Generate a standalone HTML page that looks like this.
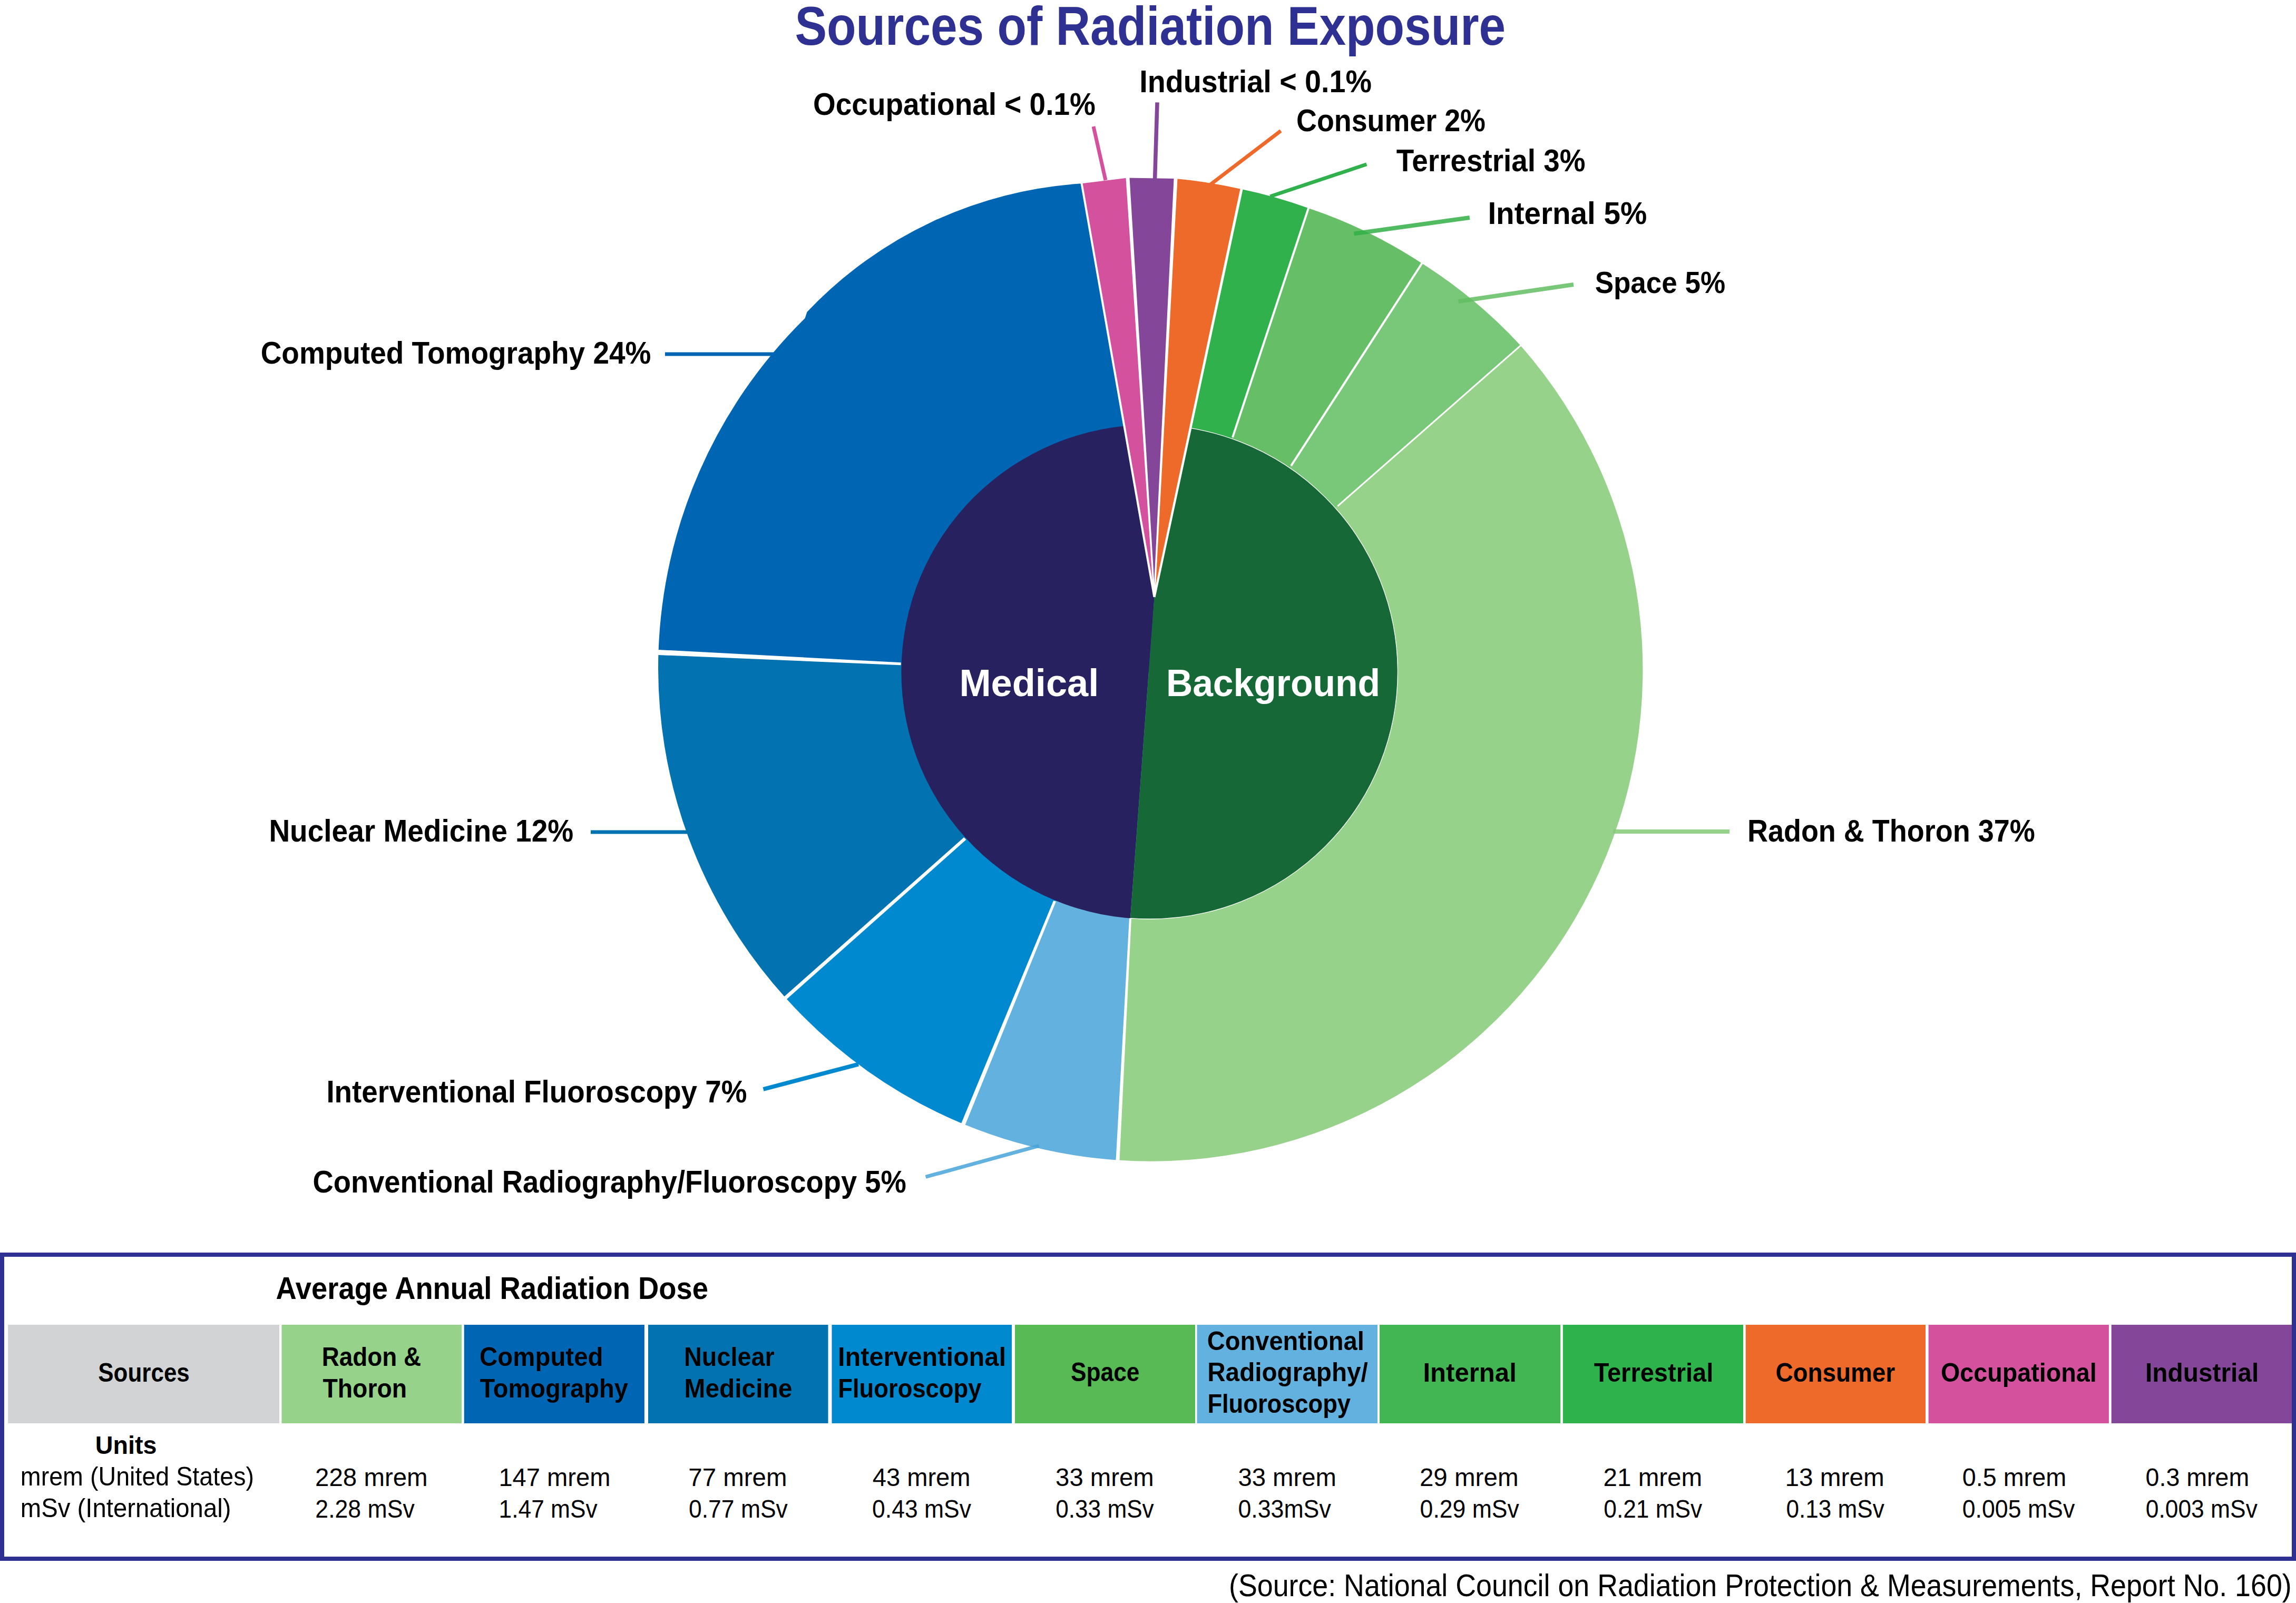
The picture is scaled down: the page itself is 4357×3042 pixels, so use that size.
<!DOCTYPE html>
<html><head><meta charset="utf-8"><style>
html,body{margin:0;padding:0;background:#fff;}
svg{display:block;}
text{font-family:"Liberation Sans",sans-serif;}
</style></head><body>
<svg width="4357" height="3042" viewBox="0 0 4357 3042">
<rect width="4357" height="3042" fill="#fff"/>
<defs>
<clipPath id="cn"><path d="M 2190.5 1133.0 L 2114.4 700 L 1600 700 L 1600 1900 L 2133.2 1900 Z"/></clipPath>
<clipPath id="cg"><path d="M 2190.5 1133.0 L 2283.1 700 L 2760 700 L 2760 1900 L 2133.2 1900 Z"/></clipPath>
</defs>

<path d="M 1249.5 1238.0 A 932.5 932.5 0 0 1 1527.5 604.0 L 1531.5 592.0 A 785 785 0 0 1 2052.6 348.3 L 2190.5 1133.0 L 2182.0 1271.0 L 1709.6 1259.8 Z" fill="#0066b3"/>
<path d="M 2052.6 348.3 L 2140.0 337.5 L 2190.5 1133.0 Z" fill="#d4519d"/>
<path d="M 2140.0 337.5 L 2231.0 339.0 L 2190.5 1133.0 Z" fill="#834699"/>
<path d="M 2231.0 339.0 A 932.5 932.5 0 0 1 2356.0 359.0 L 2190.5 1133.0 Z" fill="#ee6a2a"/>
<path d="M 2356.0 359.0 A 932.5 932.5 0 0 1 2483.0 395.0 L 2339.0 830.0 L 2182.0 1271.0 L 2190.5 1133.0 Z" fill="#30b14c"/>
<path d="M 2483.0 395.0 A 932.5 932.5 0 0 1 2698.3 499.8 L 2450.0 884.0 L 2182.0 1271.0 L 2339.0 830.0 Z" fill="#66bf67"/>
<path d="M 2698.3 499.8 A 932.5 932.5 0 0 1 2885.5 655.8 L 2538.5 960.3 L 2182.0 1271.0 L 2450.0 884.0 Z" fill="#79c778"/>
<path d="M 2885.5 655.8 A 932.5 932.5 0 0 1 2121.0 2201.5 L 2145.0 1742.0 L 2182.0 1271.0 L 2538.5 960.3 Z" fill="#97d28a"/>
<path d="M 2121.0 2201.5 A 932.5 932.5 0 0 1 1828.0 2133.0 L 2001.5 1710.0 L 2182.0 1271.0 L 2145.0 1742.0 Z" fill="#62b1de"/>
<path d="M 1828.0 2133.0 A 932.5 932.5 0 0 1 1490.7 1893.5 L 1831.3 1591.3 L 2182.0 1271.0 L 2001.5 1710.0 Z" fill="#0089cf"/>
<path d="M 1490.7 1893.5 A 932.5 932.5 0 0 1 1249.5 1238.0 L 1709.6 1259.8 L 2182.0 1271.0 L 1831.3 1591.3 Z" fill="#0272b0"/>
<path d="M 2483.0 388.7 L 2337.1 829.4 L 2340.9 830.6 L 2486.8 389.9 Z" fill="#fff"/>
<path d="M 2699.9 493.7 L 2448.3 882.9 L 2451.7 885.1 L 2703.2 495.8 Z" fill="#fff"/>
<path d="M 2889.0 650.7 L 2537.5 959.2 L 2539.5 961.4 L 2891.0 653.0 Z" fill="#fff"/>
<path d="M 2124.2 2207.7 L 2147.0 1742.1 L 2143.0 1741.9 L 2117.2 2207.3 Z" fill="#fff"/>
<path d="M 1829.4 2140.1 L 2003.8 1710.9 L 1999.2 1709.1 L 1822.0 2137.0 Z" fill="#fff"/>
<path d="M 1488.5 1900.1 L 1833.3 1593.5 L 1829.3 1589.1 L 1483.9 1894.9 Z" fill="#fff"/>
<path d="M 1243.3 1242.7 L 1709.5 1262.3 L 1709.7 1257.3 L 1243.7 1232.7 Z" fill="#fff"/>
<ellipse cx="2181.4" cy="1275.0" rx="471.0" ry="469.0" fill="#272160" clip-path="url(#cn)"/>
<ellipse cx="2181.4" cy="1275.0" rx="471.0" ry="469.0" fill="#166837" stroke="#fff" stroke-width="1.3" clip-path="url(#cg)"/>
<path d="M 2049.6 342.7 L 2188.5 1133.3 L 2192.5 1132.7 L 2053.5 342.0 Z" fill="#fff"/>
<path d="M 2136.1 331.7 L 2189.0 1133.1 L 2192.0 1132.9 L 2143.1 331.3 Z" fill="#fff"/>
<path d="M 2227.8 332.8 L 2189.0 1132.9 L 2192.0 1133.1 L 2234.8 333.2 Z" fill="#fff"/>
<path d="M 2354.8 352.6 L 2188.5 1132.6 L 2192.5 1133.4 L 2359.7 353.7 Z" fill="#fff"/>
<line x1="2075" y1="240" x2="2098" y2="342" stroke="#d4519d" stroke-width="7"/>
<line x1="2196" y1="194.4" x2="2191.5" y2="342" stroke="#834699" stroke-width="7.5"/>
<line x1="2430.5" y1="248.3" x2="2297.2" y2="350" stroke="#ee6a2a" stroke-width="7"/>
<line x1="2593.4" y1="311.8" x2="2410.4" y2="372.8" stroke="#30b14c" stroke-width="7"/>
<line x1="2788.9" y1="413" x2="2569.4" y2="443.5" stroke="#33af46" stroke-opacity="0.85" stroke-width="8"/>
<line x1="2986" y1="540" x2="2767.4" y2="572" stroke="#61bd60" stroke-opacity="0.85" stroke-width="8"/>
<line x1="1262" y1="672" x2="1480" y2="672" stroke="#0066b3" stroke-width="7"/>
<line x1="1121" y1="1579" x2="1304" y2="1579" stroke="#0272b0" stroke-width="7"/>
<line x1="3061.5" y1="1578" x2="3282" y2="1578" stroke="#85ca75" stroke-opacity="0.85" stroke-width="8"/>
<line x1="1448.5" y1="2067" x2="1629" y2="2019.6" stroke="#0089cf" stroke-width="8"/>
<line x1="1756.6" y1="2233.4" x2="1971.5" y2="2174.4" stroke="#46a3d8" stroke-opacity="0.85" stroke-width="7"/>
<path d="M 4 2381 H 4353 V 2958 H 4 Z" fill="none" stroke="#2e3192" stroke-width="8"/>
<rect x="15.2" y="2514" width="514.8" height="187" fill="#d1d3d4"/>
<rect x="534.5" y="2514" width="341.7" height="187" fill="#97d28a"/>
<rect x="880.7" y="2514" width="342.2" height="187" fill="#0066b3"/>
<rect x="1230.0" y="2514" width="341.5" height="187" fill="#0272b0"/>
<rect x="1578.5" y="2514" width="341.5" height="187" fill="#0089cf"/>
<rect x="1926.0" y="2514" width="342.0" height="187" fill="#58ba55"/>
<rect x="2271.5" y="2514" width="342.5" height="187" fill="#62b1de"/>
<rect x="2618.0" y="2514" width="343.2" height="187" fill="#42b653"/>
<rect x="2965.8" y="2514" width="342.2" height="187" fill="#2db24c"/>
<rect x="3312.7" y="2514" width="341.3" height="187" fill="#ee6a2a"/>
<rect x="3659.6" y="2514" width="342.3" height="187" fill="#d4519d"/>
<rect x="4006.7" y="2514" width="342.3" height="187" fill="#834699"/>
<text x="1508.4" y="84.7" font-size="103.3" font-weight="bold" fill="#2e3192" textLength="1348.7" lengthAdjust="spacingAndGlyphs">Sources of Radiation Exposure</text>
<text x="1543.1" y="218.3" font-size="58.9" font-weight="bold" fill="#000" textLength="535.7" lengthAdjust="spacingAndGlyphs">Occupational &lt; 0.1%</text>
<text x="2162.3" y="174.9" font-size="58.4" font-weight="bold" fill="#000" textLength="440.6" lengthAdjust="spacingAndGlyphs">Industrial &lt; 0.1%</text>
<text x="2460.0" y="249.3" font-size="58.9" font-weight="bold" fill="#000" textLength="359.0" lengthAdjust="spacingAndGlyphs">Consumer 2%</text>
<text x="2649.8" y="325.4" font-size="59.3" font-weight="bold" fill="#000" textLength="358.7" lengthAdjust="spacingAndGlyphs">Terrestrial 3%</text>
<text x="2823.4" y="424.5" font-size="58.3" font-weight="bold" fill="#000" textLength="301.9" lengthAdjust="spacingAndGlyphs">Internal 5%</text>
<text x="3026.7" y="556.0" font-size="58.1" font-weight="bold" fill="#000" textLength="247.3" lengthAdjust="spacingAndGlyphs">Space 5%</text>
<text x="494.7" y="689.7" font-size="59.3" font-weight="bold" fill="#000" textLength="740.7" lengthAdjust="spacingAndGlyphs">Computed Tomography 24%</text>
<text x="510.4" y="1596.6" font-size="59.2" font-weight="bold" fill="#000" textLength="577.8" lengthAdjust="spacingAndGlyphs">Nuclear Medicine 12%</text>
<text x="3315.9" y="1596.6" font-size="59.2" font-weight="bold" fill="#000" textLength="545.9" lengthAdjust="spacingAndGlyphs">Radon &amp; Thoron 37%</text>
<text x="619.4" y="2092.3" font-size="59.6" font-weight="bold" fill="#000" textLength="798.2" lengthAdjust="spacingAndGlyphs">Interventional Fluoroscopy 7%</text>
<text x="593.5" y="2262.7" font-size="59.2" font-weight="bold" fill="#000" textLength="1126.3" lengthAdjust="spacingAndGlyphs">Conventional Radiography/Fluoroscopy 5%</text>
<text x="1820.4" y="1321.4" font-size="72.7" font-weight="bold" fill="#fff" textLength="264.9" lengthAdjust="spacingAndGlyphs">Medical</text>
<text x="2212.9" y="1321.4" font-size="72.7" font-weight="bold" fill="#fff" textLength="406.1" lengthAdjust="spacingAndGlyphs">Background</text>
<text x="523.6" y="2465.2" font-size="58.6" font-weight="bold" fill="#000" textLength="820.4" lengthAdjust="spacingAndGlyphs">Average Annual Radiation Dose</text>
<text x="186.3" y="2622.1" font-size="50.1" font-weight="bold" fill="#000" textLength="173.5" lengthAdjust="spacingAndGlyphs">Sources</text>
<text x="610.7" y="2592.3" font-size="49.6" font-weight="bold" fill="#000" textLength="188.4" lengthAdjust="spacingAndGlyphs">Radon &amp;</text>
<text x="612.4" y="2651.8" font-size="49.6" font-weight="bold" fill="#000" textLength="159.8" lengthAdjust="spacingAndGlyphs">Thoron</text>
<text x="910.1" y="2592.3" font-size="49.6" font-weight="bold" fill="#000" textLength="234.4" lengthAdjust="spacingAndGlyphs">Computed</text>
<text x="910.6" y="2651.8" font-size="49.6" font-weight="bold" fill="#000" textLength="281.3" lengthAdjust="spacingAndGlyphs">Tomography</text>
<text x="1298.1" y="2591.7" font-size="49.6" font-weight="bold" fill="#000" textLength="171.5" lengthAdjust="spacingAndGlyphs">Nuclear</text>
<text x="1298.6" y="2651.8" font-size="49.6" font-weight="bold" fill="#000" textLength="204.8" lengthAdjust="spacingAndGlyphs">Medicine</text>
<text x="1590.0" y="2592.0" font-size="49.6" font-weight="bold" fill="#000" textLength="318.9" lengthAdjust="spacingAndGlyphs">Interventional</text>
<text x="1590.3" y="2651.8" font-size="49.6" font-weight="bold" fill="#000" textLength="272.2" lengthAdjust="spacingAndGlyphs">Fluoroscopy</text>
<text x="2032.1" y="2621.3" font-size="49.6" font-weight="bold" fill="#000" textLength="130.3" lengthAdjust="spacingAndGlyphs">Space</text>
<text x="2290.7" y="2561.8" font-size="49.6" font-weight="bold" fill="#000" textLength="298.2" lengthAdjust="spacingAndGlyphs">Conventional</text>
<text x="2291.2" y="2621.3" font-size="49.6" font-weight="bold" fill="#000" textLength="304.6" lengthAdjust="spacingAndGlyphs">Radiography/</text>
<text x="2291.4" y="2680.7" font-size="49.6" font-weight="bold" fill="#000" textLength="271.6" lengthAdjust="spacingAndGlyphs">Fluoroscopy</text>
<text x="2700.4" y="2621.7" font-size="49.6" font-weight="bold" fill="#000" textLength="177.4" lengthAdjust="spacingAndGlyphs">Internal</text>
<text x="3024.7" y="2621.7" font-size="49.6" font-weight="bold" fill="#000" textLength="226.6" lengthAdjust="spacingAndGlyphs">Terrestrial</text>
<text x="3369.5" y="2621.7" font-size="49.6" font-weight="bold" fill="#000" textLength="226.7" lengthAdjust="spacingAndGlyphs">Consumer</text>
<text x="3682.9" y="2621.6" font-size="49.6" font-weight="bold" fill="#000" textLength="295.9" lengthAdjust="spacingAndGlyphs">Occupational</text>
<text x="4071.1" y="2621.6" font-size="49.6" font-weight="bold" fill="#000" textLength="215.1" lengthAdjust="spacingAndGlyphs">Industrial</text>
<text x="180.7" y="2758.8" font-size="47.5" font-weight="bold" fill="#000" textLength="116.8" lengthAdjust="spacingAndGlyphs">Units</text>
<text x="38.8" y="2818.7" font-size="49.9" font-weight="normal" fill="#000" textLength="443.2" lengthAdjust="spacingAndGlyphs">mrem (United States)</text>
<text x="38.8" y="2878.6" font-size="49.9" font-weight="normal" fill="#000" textLength="399.7" lengthAdjust="spacingAndGlyphs">mSv (International)</text>
<text x="598.1" y="2820.0" font-size="48.0" font-weight="normal" fill="#000" textLength="213.5" lengthAdjust="spacingAndGlyphs">228 mrem</text>
<text x="598.3" y="2879.5" font-size="48.0" font-weight="normal" fill="#000" textLength="188.6" lengthAdjust="spacingAndGlyphs">2.28 mSv</text>
<text x="946.4" y="2820.0" font-size="48.0" font-weight="normal" fill="#000" textLength="212.0" lengthAdjust="spacingAndGlyphs">147 mrem</text>
<text x="946.6" y="2879.5" font-size="48.0" font-weight="normal" fill="#000" textLength="187.0" lengthAdjust="spacingAndGlyphs">1.47 mSv</text>
<text x="1306.3" y="2820.0" font-size="48.0" font-weight="normal" fill="#000" textLength="187.2" lengthAdjust="spacingAndGlyphs">77 mrem</text>
<text x="1307.0" y="2879.5" font-size="48.0" font-weight="normal" fill="#000" textLength="187.8" lengthAdjust="spacingAndGlyphs">0.77 mSv</text>
<text x="1655.7" y="2820.0" font-size="48.0" font-weight="normal" fill="#000" textLength="185.8" lengthAdjust="spacingAndGlyphs">43 mrem</text>
<text x="1655.1" y="2879.5" font-size="48.0" font-weight="normal" fill="#000" textLength="187.8" lengthAdjust="spacingAndGlyphs">0.43 mSv</text>
<text x="2003.1" y="2820.0" font-size="48.0" font-weight="normal" fill="#000" textLength="186.5" lengthAdjust="spacingAndGlyphs">33 mrem</text>
<text x="2003.2" y="2879.5" font-size="48.0" font-weight="normal" fill="#000" textLength="186.5" lengthAdjust="spacingAndGlyphs">0.33 mSv</text>
<text x="2349.4" y="2820.0" font-size="48.0" font-weight="normal" fill="#000" textLength="186.5" lengthAdjust="spacingAndGlyphs">33 mrem</text>
<text x="2349.5" y="2879.5" font-size="48.0" font-weight="normal" fill="#000" textLength="176.2" lengthAdjust="spacingAndGlyphs">0.33mSv</text>
<text x="2693.9" y="2820.0" font-size="48.0" font-weight="normal" fill="#000" textLength="187.6" lengthAdjust="spacingAndGlyphs">29 mrem</text>
<text x="2694.6" y="2879.5" font-size="48.0" font-weight="normal" fill="#000" textLength="188.3" lengthAdjust="spacingAndGlyphs">0.29 mSv</text>
<text x="3042.6" y="2820.0" font-size="48.0" font-weight="normal" fill="#000" textLength="187.5" lengthAdjust="spacingAndGlyphs">21 mrem</text>
<text x="3043.3" y="2879.5" font-size="48.0" font-weight="normal" fill="#000" textLength="186.9" lengthAdjust="spacingAndGlyphs">0.21 mSv</text>
<text x="3387.5" y="2820.0" font-size="48.0" font-weight="normal" fill="#000" textLength="188.3" lengthAdjust="spacingAndGlyphs">13 mrem</text>
<text x="3389.4" y="2879.5" font-size="48.0" font-weight="normal" fill="#000" textLength="186.4" lengthAdjust="spacingAndGlyphs">0.13 mSv</text>
<text x="3723.7" y="2820.0" font-size="48.0" font-weight="normal" fill="#000" textLength="197.4" lengthAdjust="spacingAndGlyphs">0.5 mrem</text>
<text x="3723.8" y="2879.5" font-size="48.0" font-weight="normal" fill="#000" textLength="213.4" lengthAdjust="spacingAndGlyphs">0.005 mSv</text>
<text x="4071.6" y="2820.0" font-size="48.0" font-weight="normal" fill="#000" textLength="196.6" lengthAdjust="spacingAndGlyphs">0.3 mrem</text>
<text x="4071.7" y="2879.5" font-size="48.0" font-weight="normal" fill="#000" textLength="212.2" lengthAdjust="spacingAndGlyphs">0.003 mSv</text>
<text x="2332.0" y="3028.5" font-size="59.6" font-weight="normal" fill="#000" textLength="2016.7" lengthAdjust="spacingAndGlyphs">(Source: National Council on Radiation Protection &amp; Measurements, Report No. 160)</text>
</svg></body></html>
